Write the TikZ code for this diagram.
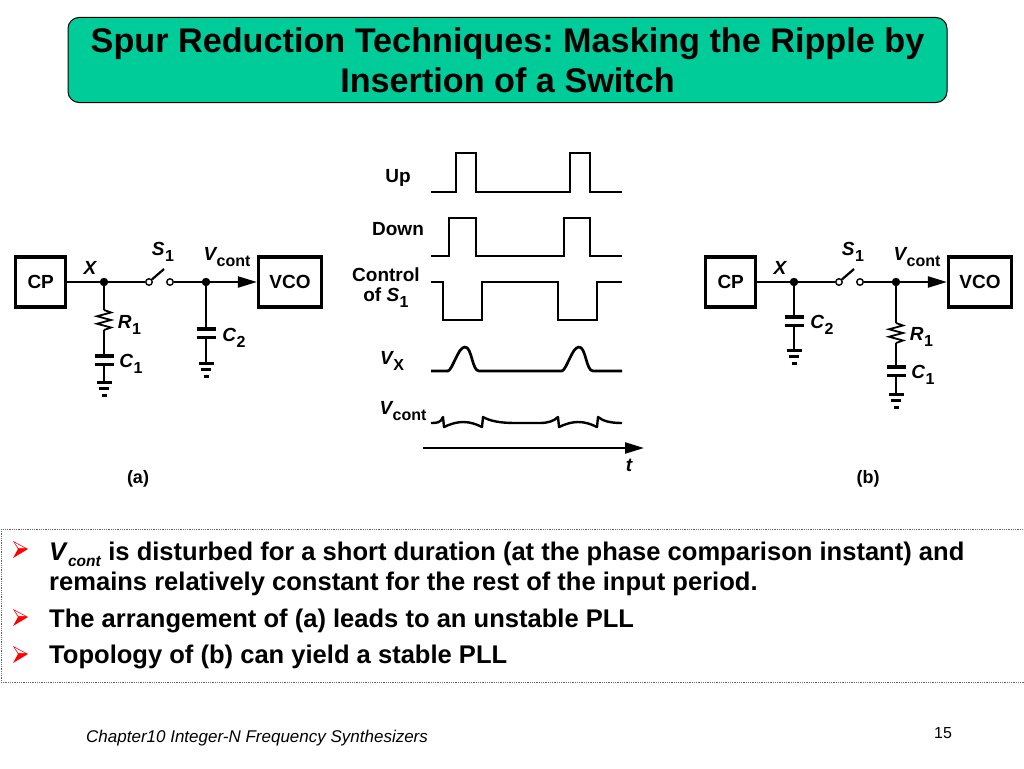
\documentclass[tikz,border=0pt]{standalone}
\usepackage{fontspec}
\setmainfont{Liberation Sans}
\usetikzlibrary{arrows.meta}
\frenchspacing
\newcommand{\labsub}[2]{{\bfseries\itshape #1}\raisebox{-0.32em}{\kern0.5pt\bfseries\fontsize{16}{16}\selectfont #2}}
\tikzset{
    wire/.style={line width=2.2pt},
    wave/.style={line width=2.7pt, line join=miter},
    block/.style={draw, line width=3.2pt, inner sep=0pt, minimum width=50pt, minimum height=50pt, font=\bfseries\fontsize{19}{20}\selectfont},
    junction/.style={circle, fill, inner sep=0pt, minimum size=8.5pt},
    contact/.style={circle, draw, fill=white, line width=1.4pt, inner sep=0pt, minimum size=6.5pt},
    lab/.style={inner sep=0pt, font=\fontsize{19}{20}\selectfont},
    wavelab/.style={inner sep=0pt, align=center, font=\bfseries\fontsize{19}{20}\selectfont},
    bodytext/.style={inner sep=0pt, anchor=base west, align=left, font=\bfseries\fontsize{25.55}{30}\selectfont},
    pics/groundsym/.style={code={
        \draw[line width=3pt] (-7.5,0) -- (7.5,0);
        \draw[line width=3pt] (-5,6.5) -- (5,6.5);
        \draw[line width=3pt] (-2.5,13) -- (2.5,13);
    }},
    pics/capplates/.style={code={
        \draw[line width=3.5pt] (-9.5,0) -- (9.5,0);
        \draw[line width=3.5pt] (-9.5,8.5) -- (9.5,8.5);
    }},
    pics/zigzag/.style={code={
        \draw[line width=1.8pt, line join=miter] (0,0) -- ++(7,2.5) -- ++(-14,3.75) -- ++(14,3.75) -- ++(-14,3.75) -- ++(14,3.75) -- ++(-7,2.5);
    }},
    pics/arrowbullet/.style={code={
        \fill[red] (0,0) -- (15,8) -- (0,17) -- (5,8) -- cycle;
        \fill[white] (1.8,1.8) -- (12,7.2) -- (5.6,7.2) -- cycle;
    }}
}
\begin{document}
\begin{tikzpicture}[x=1pt, y=-1pt]
    \useasboundingbox (0,0) rectangle (1024,768);

    % title
    \node[draw, line width=1pt, fill={rgb,255:red,0;green,204;blue,153}, rounded corners=11pt, minimum width=879pt, minimum height=85pt, inner sep=0pt, align=center, font=\bfseries\fontsize{34.2}{40}\selectfont] (title) at (507.5,60) {Spur Reduction Techniques: Masking the Ripple by\\Insertion of a Switch};

    % the top row of both circuits
    \foreach \off/\nam in {0/a, 690/b} {
        \node[block] (cp\nam) at (40.7+\off,282) {CP};
        \node[block, minimum width=63pt] (vco\nam) at (290+\off,282) {VCO};
        \node[junction] (x\nam) at (104+\off,282) {};
        \node[contact] (sl\nam) at (149+\off,282) {};
        \node[contact] (sr\nam) at (170+\off,282) {};
        \node[junction] (v\nam) at (206+\off,282) {};
        \coordinate (blade\nam) at (164+\off,269);
        \draw[wire] (cp\nam) -- (x\nam);
        \draw[wire] (x\nam) -- (sl\nam);
        \draw[wire] (sl\nam) -- (blade\nam);
        \draw[wire] (sr\nam) -- (v\nam);
        \draw[wire, -{Triangle[length=19pt, width=11pt]}] (v\nam) -- (vco\nam);
        \node[lab] (xlab\nam) at (90+\off,268) {\bfseries\itshape X};
        \node[lab] (slab\nam) at (163+\off,252) {\labsub{S}{1}};
        \node[lab] (vlab\nam) at (227+\off,257) {\labsub{V}{cont}};
    }

    % circuit (a), branches
    \coordinate (ratop) at (104,310);
    \coordinate (rabot) at (104,330);
    \coordinate (c1atop) at (104,356);
    \coordinate (c1abot) at (104,364);
    \coordinate (g1a) at (104,382);
    \draw[wire] (xa) -- (ratop);
    \pic at (ratop) {zigzag};
    \draw[wire] (rabot) -- (c1atop);
    \pic at (c1atop) {capplates};
    \draw[wire] (c1abot) -- (g1a);
    \pic at (g1a) {groundsym};
    \node[lab] (r1a) at (129.5,325) {\labsub{R}{1}};
    \node[lab] (c1a) at (131,364) {\labsub{C}{1}};

    \coordinate (c2atop) at (206,329);
    \coordinate (c2abot) at (206,338);
    \coordinate (g2a) at (206,363);
    \draw[wire] (va) -- (c2atop);
    \pic at (c2atop) {capplates};
    \draw[wire] (c2abot) -- (g2a);
    \pic at (g2a) {groundsym};
    \node[lab] (c2a) at (234,338) {\labsub{C}{2}};

    % circuit (b), branches
    \coordinate (c2btop) at (794,317);
    \coordinate (c2bbot) at (794,325);
    \coordinate (g2b) at (794,350);
    \draw[wire] (xb) -- (c2btop);
    \pic at (c2btop) {capplates};
    \draw[wire] (c2bbot) -- (g2b);
    \pic at (g2b) {groundsym};
    \node[lab] (c2b) at (822,325) {\labsub{C}{2}};

    \coordinate (rbtop) at (896,323);
    \coordinate (rbbot) at (896,343);
    \coordinate (c1btop) at (896,367);
    \coordinate (c1bbot) at (896,376);
    \coordinate (g1b) at (896,394);
    \draw[wire] (vb) -- (rbtop);
    \pic at (rbtop) {zigzag};
    \draw[wire] (rbbot) -- (c1btop);
    \pic at (c1btop) {capplates};
    \draw[wire] (c1bbot) -- (g1b);
    \pic at (g1b) {groundsym};
    \node[lab] (r1b) at (921.5,337) {\labsub{R}{1}};
    \node[lab] (c1b) at (923,375) {\labsub{C}{1}};

    \node[lab, font=\bfseries\fontsize{18}{20}\selectfont] (capa) at (138,479) {(a)};
    \node[lab, font=\bfseries\fontsize{18}{20}\selectfont] (capb) at (868,479) {(b)};

    % waveforms
    \node[wavelab] (uplab) at (398,178) {Up};
    \node[wavelab] (downlab) at (398,229) {Down};
    \node[wavelab] (ctrllab) at (386,288) {Control\\of \labsub{S}{1}};
    \node[wavelab] (vxlab) at (392,361) {\labsub{V}{X}};
    \node[wavelab] (vcontlab) at (403,411) {\labsub{V}{cont}};

    \draw[wave] (431,192) -- (456,192) -- (456,153) -- (476,153) -- (476,192) -- (570,192) -- (570,153) -- (590,153) -- (590,192) -- (622,192);
    \draw[wave] (431,256) -- (449,256) -- (449,218) -- (476,218) -- (476,256) -- (564,256) -- (564,218) -- (590,218) -- (590,256) -- (622,256);
    \draw[wave] (431,282) -- (443,282) -- (443,320) -- (482,320) -- (482,282) -- (558,282) -- (558,320) -- (597,320) -- (597,282) -- (622,282);
    \draw[wave, line join=round] (431,371) -- (448,371) .. controls (453,369) and (458,347) .. (465,347)
        .. controls (472,347) and (472,371) .. (479,371) -- (562,371) .. controls (567,369) and (572,347) .. (579,347)
        .. controls (586,347) and (586,371) .. (593,371) -- (622,371);
    \draw[wave, line width=2.4pt, line join=round] (431,423) .. controls (436,423) and (441,423) .. (443,417) -- (444,427)
        .. controls (450,424) and (457,422) .. (463,422) .. controls (470,422) and (476,424) .. (482,427) -- (483,417)
        .. controls (490,421) and (500,423) .. (515,423) -- (540,423) .. controls (548,423) and (554,421) .. (558,417) -- (559,427)
        .. controls (565,424) and (572,422) .. (578,422) .. controls (585,422) and (591,424) .. (597,427) -- (598,417)
        .. controls (603,421) and (610,423) .. (622,423);

    \coordinate (tstart) at (423,448);
    \coordinate (tend) at (644,448);
    \draw[wire, -{Triangle[length=19pt, width=11pt]}] (tstart) -- (tend);
    \node[lab] (tlab) at (629,465) {\bfseries\itshape t};

    % bullets
    \draw[densely dotted, line width=0.8pt, black!60] (1,529) rectangle (1024,682);
    \pic at (13,541) {arrowbullet};
    \pic at (13,609) {arrowbullet};
    \pic at (13,646) {arrowbullet};
    \node[bodytext] (bulla) at (49,590) {\textit{V}\raisebox{-0.25em}{\fontsize{15.5}{16}\selectfont\textit{cont}} is disturbed for a short duration (at the phase comparison instant) and\\remains relatively constant for the rest of the input period.};
    \node[bodytext] (bullb) at (49,627) {The arrangement of (a) leads to an unstable PLL};
    \node[bodytext] (bullc) at (49,663) {Topology of (b) can yield a stable PLL};

    % footer
    \node[inner sep=0pt, anchor=base west, font=\itshape\fontsize{17}{20}\selectfont] (chap) at (86,742) {Chapter10 Integer-N Frequency Synthesizers};
    \node[inner sep=0pt, font=\fontsize{16}{20}\selectfont] (pagenum) at (943,733) {15};
\end{tikzpicture}
\end{document}
